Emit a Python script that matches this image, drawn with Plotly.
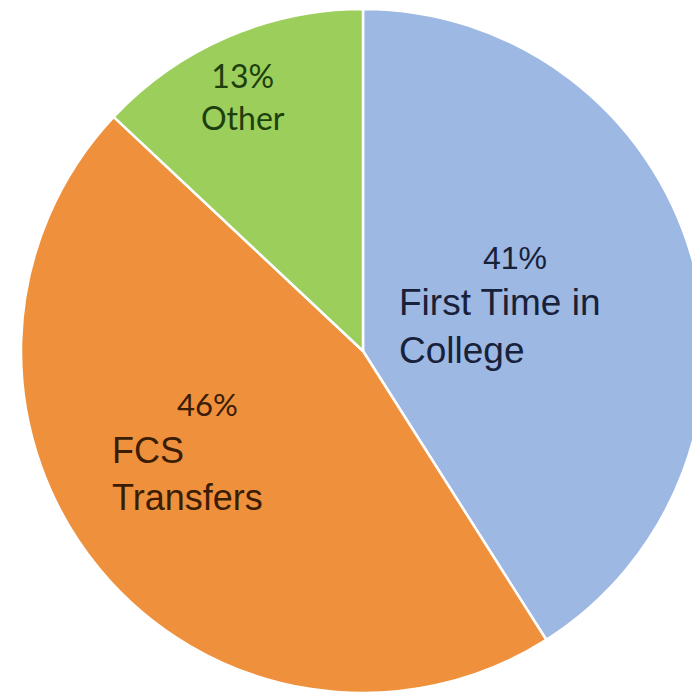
import plotly.graph_objects as go

# Data
categories = ["First Time in College", "FCS Transfers", "Other"]
label_lines = ["First Time in<br>College", "FCS<br>Transfers", "Other"]
values = [41, 46, 13]
colors = ["#9DB8E2", "#EF913C", "#9BCE5B"]
text_colors = ["#18213a", "#3b1d06", "#1d3f0e"]

W, H = 700, 698
OFF = 8  # page body margin offset

fig = go.Figure(go.Pie(
    labels=categories,
    values=values,
    sort=False,
    direction="clockwise",
    rotation=0,
    marker=dict(colors=colors, line=dict(color="white", width=2.5)),
    textinfo="none",
    hoverinfo="label+percent",
    showlegend=False,
    domain=dict(x=[13 / W, 697 / W], y=[1 - 685 / H, 1 - 1 / H]),
))

def px(x, y):
    return (x - OFF) / W, 1 - (y - OFF) / H

pct = [f"{v}%" for v in values]

annos = []
# First Time in College
x, y = px(515, 258)
annos.append(dict(x=x, y=y, text=pct[0], xanchor="center", yanchor="middle",
                  font=dict(family="Liberation Sans, Arial", size=32, color=text_colors[0])))
x, y = px(397, 326)
annos.append(dict(x=x, y=y, text=label_lines[0], xanchor="left", yanchor="middle", align="left",
                  font=dict(family="Liberation Sans, Arial", size=37, color=text_colors[0])))
# FCS Transfers
x, y = px(207, 404)
annos.append(dict(x=x, y=y, text=pct[1], xanchor="center", yanchor="middle",
                  font=dict(family="Lato, Carlito", size=31, color=text_colors[1])))
x, y = px(110, 474)
annos.append(dict(x=x, y=y, text=label_lines[1], xanchor="left", yanchor="middle", align="left",
                  font=dict(family="Liberation Sans, Arial", size=36, color=text_colors[1])))
# Other
x, y = px(243, 97)
annos.append(dict(x=x, y=y, text=pct[2] + "<br>" + label_lines[2], xanchor="center", yanchor="middle", align="center",
                  font=dict(family="Lato, Carlito", size=32, color=text_colors[2])))

for a in annos:
    a.update(xref="paper", yref="paper", showarrow=False)

fig.update_layout(
    width=W, height=H,
    margin=dict(l=0, r=0, t=0, b=0),
    paper_bgcolor="white",
    plot_bgcolor="white",
    annotations=annos,
)

fig.write_html("out.html")
